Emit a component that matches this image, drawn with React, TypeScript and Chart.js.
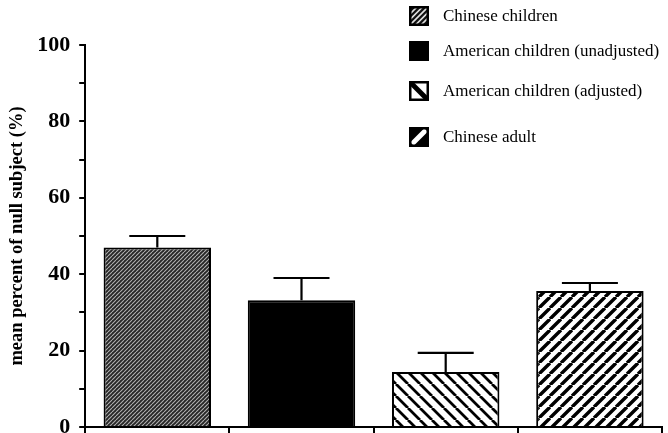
import React, { useEffect, useRef } from 'react';
import { Chart, registerables } from 'chart.js';

Chart.register(...registerables);

const categories = [
  'Chinese children',
  'American children (unadjusted)',
  'American children (adjusted)',
  'Chinese adult',
];
const means = [47, 33.2, 14.4, 35.6];
const errors = [3, 5.8, 5, 2.1];
const yMajorTicks = [0, 20, 40, 60, 80, 100];
const yTitle = 'mean percent of null subject (%)';

type Hatch = { size: number; dir: '/' | '\\'; bg: string; fg: string; lw: number };

const barHatches: Hatch[] = [
  { size: 4, dir: '/', bg: '#262626', fg: '#b0b0b0', lw: 1.1 },
  { size: 4, dir: '/', bg: '#000000', fg: '#000000', lw: 1 },
  { size: 12, dir: '\\', bg: '#ffffff', fg: '#000000', lw: 2.8 },
  { size: 11, dir: '/', bg: '#ffffff', fg: '#000000', lw: 3.4 },
];

function makePattern(h: Hatch): CanvasPattern | string {
  const c = document.createElement('canvas');
  c.width = h.size;
  c.height = h.size;
  const g = c.getContext('2d');
  if (!g) return h.bg;
  g.fillStyle = h.bg;
  g.fillRect(0, 0, h.size, h.size);
  g.strokeStyle = h.fg;
  g.lineWidth = h.lw;
  g.beginPath();
  for (let k = -1; k <= 1; k++) {
    if (h.dir === '/') {
      g.moveTo(k * h.size, h.size);
      g.lineTo(k * h.size + h.size, 0);
    } else {
      g.moveTo(k * h.size, 0);
      g.lineTo(k * h.size + h.size, h.size);
    }
  }
  g.stroke();
  return g.createPattern(c, 'repeat') || h.bg;
}

function drawLegendBox(ctx: CanvasRenderingContext2D, i: number, x: number, y: number, s: number) {
  ctx.save();
  ctx.beginPath();
  ctx.rect(x, y, s, s);
  ctx.clip();
  if (i === 0) {
    ctx.fillStyle = '#111';
    ctx.fillRect(x, y, s, s);
    ctx.strokeStyle = '#e0e0e0';
    ctx.lineWidth = 1.6;
    ctx.beginPath();
    for (let k = -2; k <= 2; k++) {
      const o = k * 5.5;
      ctx.moveTo(x + o, y + s);
      ctx.lineTo(x + s + o, y);
    }
    ctx.stroke();
  } else if (i === 1) {
    ctx.fillStyle = '#000';
    ctx.fillRect(x, y, s, s);
  } else if (i === 2) {
    ctx.fillStyle = '#fff';
    ctx.fillRect(x, y, s, s);
    ctx.strokeStyle = '#000';
    ctx.lineWidth = 5;
    ctx.beginPath();
    ctx.moveTo(x, y);
    ctx.lineTo(x + s, y + s);
    ctx.stroke();
  } else {
    ctx.fillStyle = '#000';
    ctx.fillRect(x, y, s, s);
    ctx.strokeStyle = '#fff';
    ctx.lineWidth = 5;
    ctx.beginPath();
    ctx.moveTo(x + 3, y + s - 3);
    ctx.lineTo(x + s - 3, y + 3);
    ctx.stroke();
  }
  ctx.restore();
  ctx.save();
  ctx.strokeStyle = '#000';
  ctx.lineWidth = 2.5;
  ctx.strokeRect(x + 1.25, y + 1.25, s - 2.5, s - 2.5);
  ctx.restore();
}

export default function App() {
  const ref = useRef<HTMLCanvasElement | null>(null);

  useEffect(() => {
    document.body.style.margin = '0';
    const canvas = ref.current;
    if (!canvas) return;
    const barFills = barHatches.map(makePattern);

    const errorBars = {
      id: 'errorBars',
      afterDatasetsDraw(chart: any) {
        const ctx = chart.ctx;
        const y = chart.scales.y;
        const meta = chart.getDatasetMeta(0);
        ctx.save();
        ctx.strokeStyle = '#000';
        ctx.lineWidth = 2.2;
        meta.data.forEach((bar: any, i: number) => {
          const yb = y.getPixelForValue(means[i]);
          const yt = y.getPixelForValue(means[i] + errors[i]);
          ctx.beginPath();
          ctx.moveTo(bar.x, yb);
          ctx.lineTo(bar.x, yt);
          ctx.moveTo(bar.x - 28, yt);
          ctx.lineTo(bar.x + 28, yt);
          ctx.stroke();
        });
        ctx.restore();
      },
    };

    const legendYs = [16, 51, 91, 137];
    const customLegend = {
      id: 'customLegend',
      afterDraw(chart: any) {
        const ctx = chart.ctx;
        ctx.save();
        categories.forEach((label, i) => {
          const cy = legendYs[i];
          drawLegendBox(ctx, i, 409, cy - 10, 20);
          ctx.fillStyle = '#000';
          ctx.font = '17px "Liberation Serif", "Times New Roman", serif';
          ctx.textBaseline = 'middle';
          ctx.textAlign = 'left';
          ctx.fillText(label, 443, cy + 1);
        });
        ctx.restore();
      },
    };

    const chart = new Chart(canvas, {
      type: 'bar',
      data: {
        labels: categories,
        datasets: [
          {
            data: means,
            backgroundColor: barFills as any,
            borderColor: '#000',
            borderWidth: 2,
            barPercentage: 0.745,
            categoryPercentage: 1,
          },
        ],
      },
      options: {
        animation: false,
        responsive: true,
        maintainAspectRatio: false,
        layout: { padding: { top: 45, left: 0, right: 6, bottom: 0 } },
        plugins: { legend: { display: false }, tooltip: { enabled: false } },
        scales: {
          x: {
            grid: {
              display: true,
              drawOnChartArea: false,
              drawTicks: true,
              tickLength: 6,
              offset: true,
              color: '#000',
              lineWidth: 2,
            },
            border: { display: true, color: '#000', width: 2 },
            ticks: { display: false },
          },
          y: {
            min: 0,
            max: 100,
            afterFit: (scale: any) => {
              scale.paddingTop = 0;
              scale.paddingBottom = 0;
            },
            grid: {
              drawOnChartArea: false,
              drawTicks: true,
              tickLength: 6,
              color: '#000',
              lineWidth: 2,
            },
            border: { display: true, color: '#000', width: 2 },
            ticks: {
              stepSize: 10,
              autoSkip: false,
              padding: 9,
              color: '#000',
              font: {
                family: '"Liberation Serif", "Times New Roman", serif',
                size: 22,
                weight: 'bold',
              },
              callback: (v: any) => (yMajorTicks.includes(Number(v)) ? String(v) : ''),
            },
            title: {
              display: true,
              text: yTitle,
              color: '#000',
              padding: { top: 6, bottom: 0 },
              font: { family: '"Liberation Serif", "Times New Roman", serif', size: 18.5, weight: 'bold' },
            },
          },
        },
      },
      plugins: [errorBars, customLegend],
    });
    return () => chart.destroy();
  }, []);

  return (
    <div style={{ position: 'absolute', left: 0, top: 0, width: 668, height: 433, background: '#fff' }}>
      <canvas ref={ref} />
    </div>
  );
}
